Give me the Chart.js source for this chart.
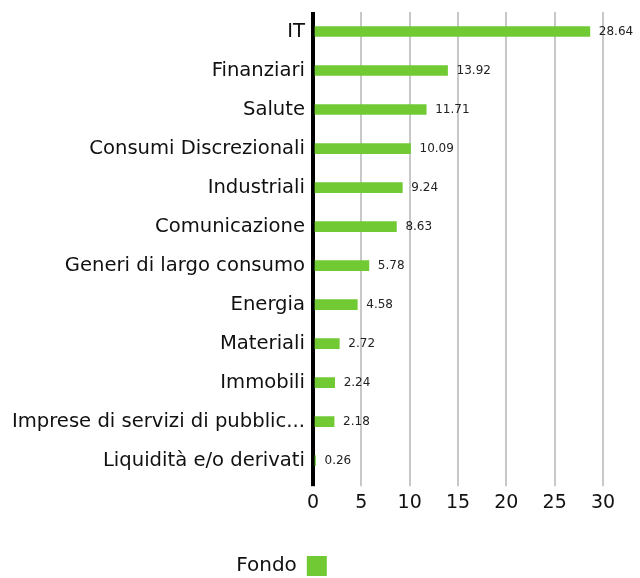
<!DOCTYPE html>
<html>
<head>
<meta charset="utf-8">
<script src="https://cdn.jsdelivr.net/npm/chart.js@4/dist/chart.umd.min.js"></script>
<style>
  html, body { margin: 0; padding: 0; background: #fff; }
  #wrap { width: 640px; height: 578px; }
</style>
</head>
<body>
<div id="wrap"><canvas id="chart" width="640" height="578"></canvas></div>
<script>
const sectors = [
  'IT', 'Finanziari', 'Salute', 'Consumi Discrezionali', 'Industriali',
  'Comunicazione', 'Generi di largo consumo', 'Energia', 'Materiali',
  'Immobili', 'Imprese di servizi di pubblic...', 'Liquidità e/o derivati'
];
const fondo = [28.64, 13.92, 11.71, 10.09, 9.24, 8.63, 5.78, 4.58, 2.72, 2.24, 2.18, 0.26];
const xTicks = [0, 5, 10, 15, 20, 25, 30];

const FONT = "'DejaVu Sans', sans-serif";
const GREEN = '#71c934';

// values written at the end of each bar
const barValues = {
  id: 'barValues',
  afterDatasetsDraw(chart) {
    const ctx = chart.ctx;
    const meta = chart.getDatasetMeta(0);
    ctx.save();
    ctx.font = "12px " + FONT;
    ctx.fillStyle = '#222';
    ctx.textBaseline = 'middle';
    ctx.textAlign = 'left';
    meta.data.forEach((bar, i) => {
      ctx.fillText(fondo[i].toFixed(2), bar.x + 9, bar.y);
    });
    ctx.restore();
  }
};

// legend sits a bit left and low in the original
const legendShift = {
  id: 'legendShift',
  afterLayout(chart) {
    const lg = chart.legend;
    if (lg) {
      lg.left -= 20;
      lg.right -= 20;
      lg.top += 8;
      lg.bottom += 8;
    }
  }
};

new Chart(document.getElementById('chart'), {
  type: 'bar',
  data: {
    labels: sectors,
    datasets: [{
      label: 'Fondo',
      data: fondo,
      backgroundColor: GREEN,
      borderWidth: 0,
      barThickness: 10
    }]
  },
  options: {
    indexAxis: 'y',
    responsive: false,
    animation: false,
    layout: { padding: { top: 12, right: 37, left: 0, bottom: 0 } },
    scales: {
      x: {
        min: 0,
        max: 30,
        afterBuildTicks(scale) {
          scale.ticks = xTicks.map(v => ({ value: v }));
        },
        afterFit(scale) { scale.height += 25; },
        border: { display: false },
        grid: {
          color: c => c.tick && c.tick.value === 0 ? '#000' : '#c8c8c8',
          lineWidth: c => c.tick && c.tick.value === 0 ? 4 : 2,
          tickLength: 6
        },
        ticks: {
          font: { family: FONT, size: 19 },
          color: '#111',
          padding: 5
        }
      },
      y: {
        afterFit(scale) {
          scale.width = 313;
          scale.paddingTop = 0;
          scale.paddingBottom = 0;
        },
        border: { display: false },
        grid: { display: false, drawTicks: false },
        ticks: {
          font: { family: FONT, size: 19.6 },
          color: '#111',
          padding: 8,
          autoSkip: false
        }
      }
    },
    plugins: {
      tooltip: { enabled: false },
      legend: {
        position: 'bottom',
        rtl: true,
        labels: {
          boxWidth: 20,
          boxHeight: 20,
          padding: 4,
          color: '#111',
          font: { family: FONT, size: 20 }
        }
      }
    }
  },
  plugins: [barValues, legendShift]
});
</script>
</body>
</html>
